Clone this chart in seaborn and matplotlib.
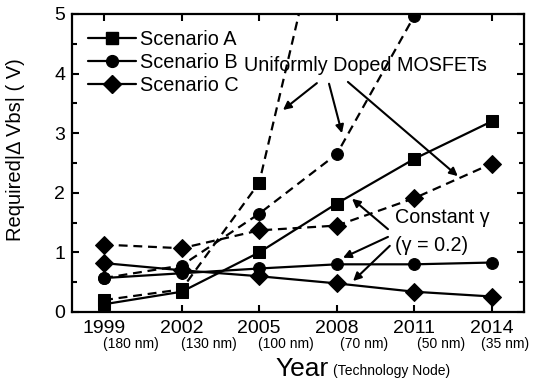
import pandas as pd
import numpy as np
import matplotlib
matplotlib.use("Agg")
import matplotlib.pyplot as plt
import seaborn as sns
from matplotlib.lines import Line2D

# ---- data ----
years = [1999, 2002, 2005, 2008, 2011, 2014]
nodes = ["(180 nm)", "(130 nm)", "(100 nm)", "(70 nm)", "(50 nm)", "(35 nm)"]

# uniformly doped MOSFETs (dashed)
a_uniform = [0.2, 0.38, 2.17, 7.7, 14.0, 20.0]
b_uniform = [0.57, 0.78, 1.65, 2.65, 4.97, 8.0]
c_uniform = [1.13, 1.07, 1.37, 1.45, 1.91, 2.49]

# constant gamma (solid)
a_const = [0.13, 0.34, 1.0, 1.82, 2.57, 3.2]
b_const = [0.57, 0.65, 0.73, 0.8, 0.8, 0.83]
c_const = [0.82, 0.7, 0.6, 0.48, 0.34, 0.26]

scenarios = ["Scenario A", "Scenario B", "Scenario C"]
markers = {"Scenario A": "s", "Scenario B": "o", "Scenario C": "D"}

rows = []
for sc, u, c in zip(scenarios, [a_uniform, b_uniform, c_uniform], [a_const, b_const, c_const]):
    for yr, vu, vc in zip(years, u, c):
        rows.append({"year": yr, "value": vu, "scenario": sc, "type": "uniform"})
        rows.append({"year": yr, "value": vc, "scenario": sc, "type": "const"})
df = pd.DataFrame(rows)

sns.set_style("ticks")
plt.rcParams['font.family'] = ['Liberation Sans', 'DejaVu Sans']
plt.rcParams['text.color'] = 'black'
plt.rcParams['axes.labelcolor'] = 'black'

fig = plt.figure(figsize=(5.44, 3.81), dpi=100)
ax = fig.add_axes([72/544, 1-312/381, 452/544, 298/381])

for sc in scenarios:
    for typ, ls in [("uniform", (0, (4, 2.6))), ("const", "-")]:
        sub = df[(df.scenario == sc) & (df.type == typ)]
        ms = 9 if sc == "Scenario C" else 8.5
        sns.lineplot(data=sub, x="year", y="value", ax=ax, color="black",
                     marker=markers[sc], markersize=ms, markeredgecolor="black",
                     linewidth=1.6, linestyle=ls, legend=False)

ax.set_xlim(1997.76, 2015.24)
ax.set_ylim(0, 5)
ax.set_xticks(years)
ax.set_xticklabels([str(y) for y in years])
ax.set_yticks([0, 1, 2, 3, 4, 5])
ax.set_yticks(np.arange(0.5, 5, 1.0), minor=True)
ax.tick_params(which="both", direction="in", top=True, right=True, width=1.5,
               labelsize=14, pad=5, colors="black")
ax.tick_params(axis="x", pad=5.5)
ax.tick_params(which="major", length=5)
ax.tick_params(which="minor", length=3.5)
for sp in ax.spines.values():
    sp.set_linewidth(1.6)
    sp.set_color("black")

# node labels under the years
for yr, nd in zip(years, nodes):
    off = 1.05 if yr < 2014 else 0.5
    ax.text(yr + off, -0.108, nd, transform=ax.get_xaxis_transform(),
            ha="center", va="center", fontsize=10)

ax.set_xlabel("")
ax.set_ylabel("Required|\u0394 Vbs| ( V)", fontsize=14.5)
ax.yaxis.set_label_coords(-0.105, 0.544)
fig.text(275/544, 1-376/381, "Year", fontsize=19, ha="left", va="baseline")
fig.text(333/544, 1-375/381, "(Technology Node)", fontsize=10, ha="left", va="baseline")

# legend
handles = [Line2D([0], [0], color="black", lw=1.6, marker=markers[s],
                  markersize=9 if s == "Scenario C" else 8.5) for s in scenarios]
ax.legend(handles, scenarios, loc="upper left", bbox_to_anchor=(0.035, 0.945),
          frameon=False, fontsize=14.3, handlelength=2.45, handletextpad=0.2,
          labelspacing=0.18, borderpad=0, borderaxespad=0)

# annotations
arrow = dict(arrowstyle="-|>", color="black", lw=1.5, mutation_scale=12,
             shrinkA=0, shrinkB=0)
ax.text(2009.1, 4.14, "Uniformly Doped MOSFETs", fontsize=14.2, ha="center", va="center")
for start, end in [((2007.23, 3.84), (2005.92, 3.39)),
                   ((2007.7, 3.83), (2008.2, 3.0)),
                   ((2008.43, 3.86), (2012.68, 2.28))]:
    ax.annotate("", xy=end, xytext=start, arrowprops=arrow)

ax.text(2010.25, 1.58, "Constant \u03b3", fontsize=14.2, ha="left", va="center")
ax.text(2010.25, 1.12, "(\u03b3 = 0.2)", fontsize=14.2, ha="left", va="center")
for start, end in [((2009.98, 1.39), (2008.59, 1.9)),
                   ((2009.98, 1.26), (2008.24, 0.91)),
                   ((2010.05, 1.11), (2008.63, 0.52))]:
    ax.annotate("", xy=end, xytext=start, arrowprops=arrow)

fig.savefig("out.png", dpi=100)
